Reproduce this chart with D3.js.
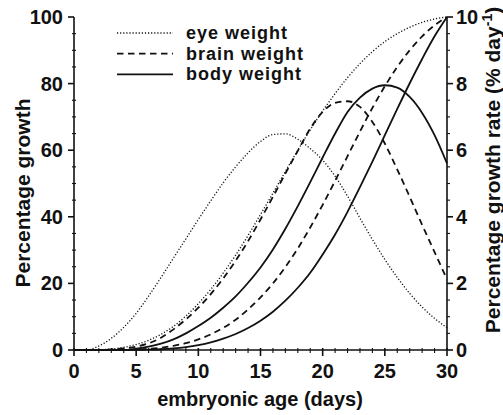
<!DOCTYPE html>
<html lang="en">
<head>
  <meta charset="UTF-8">
  <title>Embryonic growth</title>
  <script src="https://d3js.org/d3.v7.min.js"></script>
  <style>
    body { margin: 0; background: #fff; }
    svg text { font-family: "Liberation Sans", Arial, sans-serif; font-weight: bold; fill: #111; }
  </style>
</head>
<body>
  <svg id="chart" width="503" height="415"></svg>

  <script>
    // embryonic age, days
    const days = [0, 1, 2, 3, 4, 5, 6, 7, 8, 9, 10, 11, 12, 13, 14, 15,
                  16, 17, 18, 19, 20, 21, 22, 23, 24, 25, 26, 27, 28, 29, 30];

    // cumulative percentage growth (left axis)
    const eyeGrowth   = [0, 0, 0.06, 0.3, 0.8, 1.65, 2.9, 4.7, 7.1, 10.2, 13.9, 18.2, 23.1, 28.5, 34.4, 40.7,
                         47.1, 53.6, 60.0, 66.1, 71.8, 77.0, 81.8, 86.0, 89.6, 92.6, 95.0, 96.9, 98.4, 99.4, 100];
    const brainGrowth = [0, 0, 0, 0.01, 0.05, 0.15, 0.35, 0.7, 1.25, 2.05, 3.2, 4.7, 6.65, 9.1, 12.2, 15.8,
                         20.0, 24.9, 30.5, 36.8, 43.6, 50.8, 58.2, 65.6, 72.7, 79.2, 85.0, 90.0, 94.2, 97.5, 100];
    const bodyGrowth  = [0, 0, 0, 0, 0, 0.02, 0.09, 0.23, 0.48, 0.88, 1.48, 2.3, 3.4, 4.8, 6.6, 8.8,
                         11.5, 14.8, 18.7, 23.2, 28.7, 34.7, 41.5, 48.9, 56.6, 64.5, 72.4, 80.1, 87.4, 94.2, 100];

    // growth rate, % per day (right axis)
    const eyeRate   = [0, 0, 0.12, 0.35, 0.68, 1.1, 1.62, 2.18, 2.76, 3.34, 3.92, 4.48, 5.02, 5.5, 5.92, 6.26,
                       6.47, 6.49, 6.33, 6.05, 5.7, 5.22, 4.62, 3.96, 3.32, 2.72, 2.18, 1.7, 1.29, 0.95, 0.67];
    const brainRate = [0, 0, 0, 0.02, 0.05, 0.1, 0.2, 0.37, 0.62, 0.92, 1.27, 1.68, 2.15, 2.68, 3.27, 3.92,
                       4.6, 5.3, 5.98, 6.65, 7.15, 7.42, 7.47, 7.3, 6.85, 6.2, 5.42, 4.6, 3.76, 2.94, 2.12];
    const bodyRate  = [0, 0, 0, 0, 0, 0.04, 0.1, 0.19, 0.32, 0.5, 0.72, 0.97, 1.27, 1.61, 2.02, 2.48,
                       3.02, 3.64, 4.32, 5.04, 5.78, 6.5, 7.15, 7.58, 7.85, 7.95, 7.88, 7.6, 7.12, 6.45, 5.6];

    const xTicks = [0, 5, 10, 15, 20, 25, 30];
    const leftTicks = [0, 20, 40, 60, 80, 100];
    const rightTicks = [0, 2, 4, 6, 8, 10];
    const legendNames = ["eye weight", "brain weight", "body weight"];

    const svg = d3.select("#chart");
    const x = d3.scaleLinear().domain([0, 30]).range([74, 447]);
    const yL = d3.scaleLinear().domain([0, 100]).range([350, 17]);
    const yR = d3.scaleLinear().domain([0, 10]).range([350, 17]);

    const styles = {
      eye:   { dash: "1.2,1.9", width: 1.3 },
      brain: { dash: "6.5,4.5", width: 1.8 },
      body:  { dash: null, width: 1.8 }
    };

    const series = [
      { key: "eye", vals: eyeGrowth, scale: yL },
      { key: "eye", vals: eyeRate, scale: yR },
      { key: "brain", vals: brainGrowth, scale: yL },
      { key: "brain", vals: brainRate, scale: yR },
      { key: "body", vals: bodyGrowth, scale: yL },
      { key: "body", vals: bodyRate, scale: yR }
    ];

    series.forEach(s => {
      const line = d3.line()
        .x((d, i) => x(days[i]))
        .y(d => s.scale(d))
        .curve(d3.curveMonotoneX);
      svg.append("path")
        .attr("d", line(s.vals))
        .attr("fill", "none")
        .attr("stroke", "#111")
        .attr("stroke-width", styles[s.key].width)
        .attr("stroke-dasharray", styles[s.key].dash);
    });

    // axes lines
    const axisG = svg.append("g").attr("stroke", "#111").attr("stroke-width", 1.6);
    axisG.append("line").attr("x1", x(0)).attr("x2", x(30)).attr("y1", yL(0)).attr("y2", yL(0));
    axisG.append("line").attr("x1", x(0)).attr("x2", x(0)).attr("y1", yL(0)).attr("y2", yL(100));
    axisG.append("line").attr("x1", x(30)).attr("x2", x(30)).attr("y1", yL(0)).attr("y2", yL(100));

    // x ticks
    d3.range(0, 31, 1).forEach(d => {
      const major = d % 5 === 0;
      axisG.append("line")
        .attr("x1", x(d)).attr("x2", x(d))
        .attr("y1", yL(0) - 2).attr("y2", yL(0) + (major ? 6 : 3))
        .attr("stroke-width", major ? 1.6 : 1.1);
    });
    // left ticks
    d3.range(0, 101, 5).forEach(d => {
      const major = d % 20 === 0;
      axisG.append("line")
        .attr("x1", x(0) - (major ? 6 : 2)).attr("x2", x(0) + (major ? 0 : 2))
        .attr("y1", yL(d)).attr("y2", yL(d))
        .attr("stroke-width", major ? 1.6 : 1.1);
    });
    // right ticks
    d3.range(0, 10.01, 0.5).forEach(d => {
      const major = Math.abs(d % 2) < 1e-6;
      axisG.append("line")
        .attr("x1", x(30)).attr("x2", x(30) + (major ? 6 : 3))
        .attr("y1", yR(d)).attr("y2", yR(d))
        .attr("stroke-width", major ? 1.6 : 1.1);
    });

    // tick labels
    svg.selectAll(".xlab").data(xTicks).enter().append("text")
      .attr("x", d => x(d)).attr("y", 378)
      .attr("text-anchor", "middle").attr("font-size", 20)
      .text(d => d);
    svg.selectAll(".ylab").data(leftTicks).enter().append("text")
      .attr("x", 63).attr("y", d => yL(d) + 7)
      .attr("text-anchor", "end").attr("font-size", 20)
      .text(d => d);
    svg.selectAll(".rlab").data(rightTicks).enter().append("text")
      .attr("x", 456).attr("y", d => yR(d) + 7)
      .attr("text-anchor", "start").attr("font-size", 20)
      .text(d => d);

    // axis titles
    svg.append("text")
      .attr("x", 260).attr("y", 406)
      .attr("text-anchor", "middle").attr("font-size", 20)
      .text("embryonic age (days)");
    svg.append("text")
      .attr("transform", "translate(30,193) rotate(-90)")
      .attr("text-anchor", "middle").attr("font-size", 21)
      .text("Percentage growth");
    const rt = svg.append("text")
      .attr("transform", "translate(500,170) rotate(-90)")
      .attr("text-anchor", "middle").attr("font-size", 21);
    rt.append("tspan").text("Percentage growth rate (% day");
    rt.append("tspan").attr("dy", -8).attr("font-size", 14).text("-1");
    rt.append("tspan").attr("dy", 8).text(")");

    // legend
    const legend = svg.append("g");
    ["eye", "brain", "body"].forEach((k, i) => {
      const yy = 33 + i * 20.7;
      legend.append("line")
        .attr("x1", 117).attr("x2", 173).attr("y1", yy).attr("y2", yy)
        .attr("stroke", "#111")
        .attr("stroke-width", styles[k].width)
        .attr("stroke-dasharray", styles[k].dash);
      legend.append("text")
        .attr("x", 186).attr("y", yy + 6)
        .attr("font-size", 18)
        .attr("letter-spacing", 1)
        .text(legendNames[i]);
    });
  </script>
</body>
</html>
